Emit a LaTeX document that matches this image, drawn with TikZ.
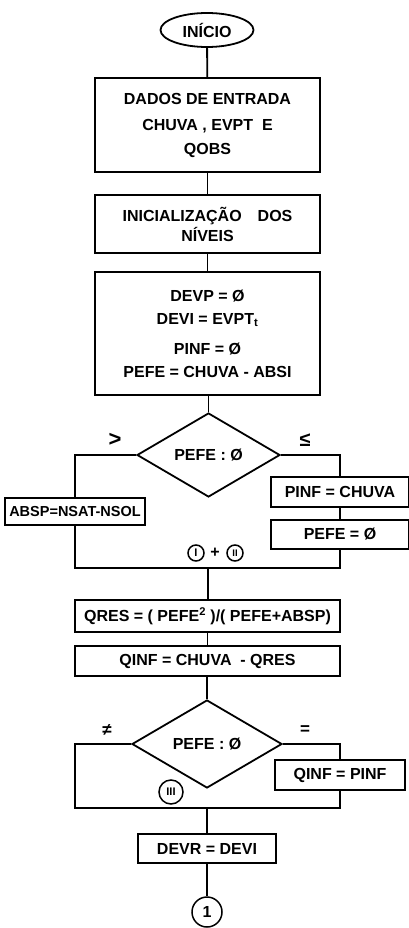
\documentclass[tikz,border=0pt]{standalone}
\usepackage{fontspec}
\setmainfont{Liberation Sans}
\usetikzlibrary{shapes.geometric}
\begin{document}
\begin{tikzpicture}[x=1pt,y=-1pt,
  every node/.style={font=\bfseries\fontsize{16}{19}\selectfont},
  ln/.style={line width=1.8pt},
  boxn/.style={draw,line width=2pt,rectangle,inner sep=0pt,align=center},
  dia/.style={draw,line width=1.8pt,diamond,inner sep=0pt},
  circn/.style={draw,line width=1.5pt,circle,inner sep=0pt},
  lab/.style={inner sep=0pt}]
\useasboundingbox (0,0) rectangle (409,928);
% nodes
\node[draw,line width=1.8pt,ellipse,inner sep=0pt,minimum width=93pt,minimum height=34pt] (start) at (207,30) {INÍCIO};
\node[boxn,minimum width=225pt,minimum height=94pt] (b1) at (207.5,125)
  {DADOS DE ENTRADA\\[7pt]CHUVA , EVPT\ \ E\\[5pt]QOBS};
\node[boxn,minimum width=225pt,minimum height=58pt] (b2) at (207.5,224)
  {INICIALIZAÇÃO\quad DOS\\[1pt]NÍVEIS};
\node[boxn,minimum width=225pt,minimum height=123pt] (b3) at (207.5,333.5)
  {DEVP = Ø\\[4pt]DEVI = EVPT\textsubscript{t}\\[11pt]PINF = Ø\\[4pt]PEFE = CHUVA - ABSI};
\node[dia,minimum width=143pt,minimum height=84pt] (d1) at (208.5,455) {PEFE : Ø};
\node[lab,font=\bfseries\fontsize{22}{22}\selectfont] (gt) at (115,440) {>};
\node[lab,font=\bfseries\fontsize{20}{20}\selectfont] (le) at (305,440) {≤};
\node[boxn,minimum width=140pt,minimum height=27pt,font=\bfseries\fontsize{14.5}{16}\selectfont] (absp) at (75,511.5) {ABSP=NSAT-NSOL};
\node[boxn,minimum width=138pt,minimum height=30pt] (pinf) at (340,492) {PINF = CHUVA};
\node[boxn,minimum width=138pt,minimum height=29pt] (pefe0) at (340,534.5) {PEFE = Ø};
\node[circn,minimum size=16pt,font=\bfseries\fontsize{11}{11}\selectfont] (cI) at (196,553) {I};
\node[lab] (plus) at (215,553) {+};
\node[circn,minimum size=16pt,font=\bfseries\fontsize{9.5}{9.5}\selectfont] (cII) at (235,553) {II};
\coordinate (j1) at (208,568);
\node[boxn,minimum width=265pt,minimum height=32pt] (qres) at (207.5,616)
  {QRES = ( PEFE\textsuperscript{2} )/( PEFE+ABSP)};
\node[boxn,minimum width=265pt,minimum height=30pt] (qinf) at (207.5,661) {QINF = CHUVA\ \ - QRES};
\node[dia,minimum width=150pt,minimum height=88pt] (d2) at (207,744) {PEFE : Ø};
\node[lab,font=\bfseries\fontsize{17}{17}\selectfont] (ne) at (107,730) {≠};
\node[lab,font=\bfseries\fontsize{17}{17}\selectfont] (eq) at (305,730) {=};
\node[boxn,minimum width=130pt,minimum height=30pt] (qpinf) at (340,775) {QINF = PINF};
\node[circn,minimum size=24pt,font=\bfseries\fontsize{11}{11}\selectfont] (cIII) at (171,792) {III};
\coordinate (l2) at (75,808);
\coordinate (j2) at (207,808);
\node[boxn,minimum width=138pt,minimum height=29pt] (devr) at (207,848.5) {DEVR = DEVI};
\node[circn,minimum size=30pt] (end) at (207,912) {1};
% connectors
\draw[ln] (start) -- (b1);
\draw[ln] (b1) -- (b2);
\draw[ln] (b2) -- (b3);
\draw[ln] (b3.south -| d1.north) -- (d1.north);
\draw[ln] (d1.west) -| (absp.north);
\draw[ln] (absp.south) |- (j1);
\draw[ln] (d1.east) -| (pinf.north);
\draw[ln] (pinf.south) -- (pefe0.north);
\draw[ln] (pefe0.south) |- (j1);
\draw[ln] (j1) -- (j1 |- qres.north);
\draw[ln] (qres.south) -- (qres.south |- qinf.north);
\draw[ln] (qinf.south -| d2.north) -- (d2.north);
\draw[ln] (d2.west) -| (l2) -- (j2);
\draw[ln] (d2.east) -| (qpinf.north);
\draw[ln] (qpinf.south) |- (j2);
\draw[ln] (j2) -- (devr.north);
\draw[ln] (devr.south) -- (end.north);
\end{tikzpicture}
\end{document}
